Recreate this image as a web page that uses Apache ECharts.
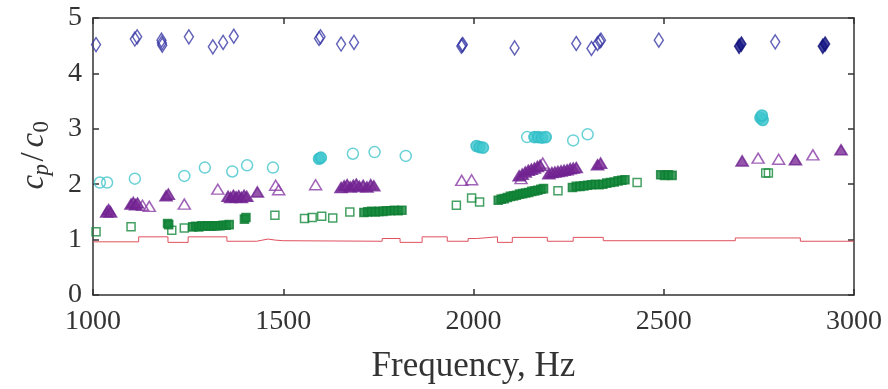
<!DOCTYPE html>
<html>
<head>
<meta charset="utf-8">
<script src="https://cdn.jsdelivr.net/npm/echarts@6/dist/echarts.min.js"></script>
<style>html,body{margin:0;padding:0;background:#fff;}#c{width:888px;height:389px;}</style>
</head>
<body>
<div id="c"></div>
<script>
// ---- data ----
var xTicks = [1000, 1500, 2000, 2500, 3000];
var yTicks = [0, 1, 2, 3, 4, 5];

// open (isolated) markers
var diamondsOpen = [
  [1008,4.52],
  [1110,4.62],[1116,4.66],
  [1180,4.60],[1181,4.55],[1182,4.51],
  [1252,4.66],
  [1315,4.48],
  [1342,4.56],
  [1370,4.67],
  [1594,4.63],[1598,4.66],
  [1652,4.53],
  [1686,4.56],
  [1968,4.49],[1970,4.51],[1972,4.52],
  [2108,4.46],
  [2270,4.54],
  [2310,4.45],
  [2326,4.54],[2332,4.58],[2335,4.60],
  [2487,4.60],
  [2793,4.57]
];
// overlapping clusters (appear solid)
var diamondsDense = [
  [2698,4.49],[2704,4.53],
  [2918,4.49],[2924,4.53]
];

var circlesOpen = [
  [1018,2.03],[1037,2.03],
  [1110,2.10],
  [1240,2.15],
  [1294,2.30],
  [1366,2.23],
  [1405,2.34],
  [1473,2.30],
  [1683,2.55],
  [1740,2.58],
  [1822,2.51],
  [2141,2.85],
  [2262,2.79],
  [2300,2.90]
];
var circlesDense = [
  [1594,2.46],[1599,2.48],
  [2008,2.69],[2016,2.67],[2025,2.66],
  [2160,2.85],[2170,2.85],[2180,2.84],[2190,2.85],
  [2754,3.20],[2760,3.16],[2758,3.24]
];

var trianglesOpen = [
  [1130,1.62],[1148,1.60],
  [1240,1.64],
  [1328,1.91],
  [1480,1.98],[1488,1.90],
  [1585,1.99],
  [1969,2.07],[1995,2.08],
  [2125,2.10],[2182,2.38],
  [2748,2.47],
  [2802,2.45],
  [2892,2.53]
];
var trianglesDense = [
  [1036,1.50],[1041,1.54],[1046,1.50],
  [1100,1.64],[1106,1.67],[1112,1.63],[1117,1.66],
  [1192,1.79],[1198,1.82],
  [1355,1.78],[1362,1.76],[1369,1.80],[1376,1.77],[1383,1.79],[1390,1.76],[1397,1.80],[1404,1.78],
  [1432,1.86],
  [1652,1.94],[1660,1.97],[1668,1.99],[1676,1.95],[1684,1.98],[1692,2.00],[1700,1.96],[1710,1.98],[1720,1.95],[1730,1.99],[1738,1.97],
  [2120,2.15],[2128,2.18],[2136,2.22],[2144,2.25],[2152,2.27],[2160,2.29],[2168,2.32],[2175,2.34],
  [2198,2.19],[2206,2.21],[2214,2.22],[2222,2.23],[2230,2.24],[2238,2.25],[2246,2.26],[2254,2.28],[2262,2.29],[2270,2.30],
  [2326,2.35],[2334,2.38],
  [2706,2.42],
  [2846,2.44],
  [2966,2.62]
];

var squaresOpen = [
  [1008,1.14],
  [1100,1.23],
  [1207,1.17],
  [1240,1.21],
  [1478,1.44],
  [1556,1.38],[1576,1.40],
  [1601,1.42],[1630,1.39],
  [1675,1.50],
  [1955,1.62],
  [1995,1.75],[2016,1.68],
  [2222,1.88],
  [2430,2.03],
  [2768,2.20],[2775,2.20]
];
var squaresDense = [
  [1196,1.29],[1199,1.27],
  [1262,1.23],[1270,1.24],[1278,1.23],[1286,1.25],[1294,1.24],[1302,1.25],[1310,1.24],[1318,1.25],[1326,1.25],[1334,1.25],[1342,1.26],[1350,1.26],[1358,1.27],
  [1398,1.37],[1402,1.40],
  [1712,1.49],[1722,1.50],[1732,1.51],[1742,1.50],[1752,1.51],[1762,1.51],[1772,1.52],[1782,1.52],[1792,1.53],[1802,1.52],[1812,1.53],
  [2065,1.71],[2073,1.73],[2081,1.74],[2089,1.76],[2097,1.78],[2105,1.79],[2113,1.80],[2121,1.82],[2129,1.83],[2137,1.84],[2145,1.85],[2153,1.87],[2161,1.88],[2169,1.89],[2177,1.91],[2184,1.92],
  [2260,1.94],[2270,1.96],[2280,1.96],[2290,1.97],[2300,1.98],[2310,1.99],[2320,2.00],[2330,1.99],[2340,2.00],[2350,2.02],[2360,2.03],[2370,2.04],[2380,2.06],[2390,2.07],[2398,2.08],
  [2492,2.17],[2502,2.16],[2512,2.17],[2522,2.16]
];

var redX = [1000,1120,1197,1250,1352,1430,1445,1460,1480,1500,1760,1807,1865,1931,1986,2010,2063,2102,2194,2262,2341,2688,2859,3000];
var redY = [0.96,1.05,0.95,1.05,0.97,0.99,1.01,0.99,0.98,0.97,1.02,0.95,1.05,0.97,1.02,1.05,0.95,1.04,0.97,1.04,0.98,1.03,0.97,0.97];

// ---- chart ----
var chart = echarts.init(document.getElementById('c'), null, {renderer:'canvas'});
var AX = '#333';
var FONT = 'Liberation Serif';
function hollow(c){ return {color:'rgba(255,255,255,0)', borderColor:c, borderWidth:1.5}; }
function solid(fill, c){ return {color:fill, borderColor:c, borderWidth:1.6}; }
var redData = redX.map(function(x,i){ return [x, redY[i]]; });

function xAx(pos, show){
  return {
    type:'value', min:xTicks[0], max:xTicks[xTicks.length-1], interval:500, position:pos,
    axisLine:{show:true, onZero:false, lineStyle:{color:AX, width:1.5}},
    axisTick:{show:true, inside:true, length:6, lineStyle:{color:AX, width:1.5}},
    axisLabel:{show:show, fontFamily:FONT, fontSize:28, color:AX, margin:13,
               formatter:function(v){ return String(v); }},
    splitLine:{show:false},
    name: show ? 'Frequency, Hz' : '', nameLocation:'middle', nameGap:54,
    nameTextStyle:{fontFamily:FONT, fontSize:35, color:AX}
  };
}
function yAx(pos, show){
  return {
    type:'value', min:yTicks[0], max:yTicks[yTicks.length-1], interval:1, position:pos,
    axisLine:{show:true, onZero:false, lineStyle:{color:AX, width:1.5}},
    axisTick:{show:true, inside:true, length:6, lineStyle:{color:AX, width:1.5}},
    axisLabel:{show:show, fontFamily:FONT, fontSize:28, color:AX, margin:11},
    splitLine:{show:false}
  };
}

chart.setOption({
  animation:false,
  backgroundColor:'#fff',
  grid:{left:93, right:34, top:18, bottom:93},
  xAxis:[xAx('bottom', true), xAx('top', false)],
  yAxis:[yAx('left', true), yAx('right', false)],
  graphic:[{
    type:'group', left:18, top:121, rotation:Math.PI/2,
    children:[
      {type:'text', x:0, y:0, style:{text:'c', font:'italic 33px "Liberation Serif"', fill:AX}},
      {type:'text', x:14, y:12, style:{text:'p', font:'italic 23px "Liberation Serif"', fill:AX}},
      {type:'text', x:28, y:0, style:{text:'/', font:'33px "Liberation Serif"', fill:AX}},
      {type:'text', x:42, y:0, style:{text:'c', font:'italic 33px "Liberation Serif"', fill:AX}},
      {type:'text', x:57, y:12, style:{text:'0', font:'23px "Liberation Serif"', fill:AX}}
    ]
  }],
  series:[
    {type:'line', data:redData, step:'end', symbol:'none', lineStyle:{color:'#e0505e', width:1}, z:1},
    {type:'scatter', data:squaresOpen, symbol:'rect', symbolSize:8, itemStyle:hollow('#168a3c'), z:2},
    {type:'scatter', data:squaresDense, symbol:'rect', symbolSize:8, itemStyle:solid('#12883a','#0f7d33'), z:2},
    {type:'scatter', data:trianglesOpen, symbol:'triangle', symbolSize:[12,10], itemStyle:hollow('#8a3ca6'), z:3},
    {type:'scatter', data:trianglesDense, symbol:'triangle', symbolSize:[12,10], itemStyle:solid('#7a2a96','#6e2290'), z:3},
    {type:'scatter', data:circlesOpen, symbol:'circle', symbolSize:11, itemStyle:hollow('#44c6cc'), z:4},
    {type:'scatter', data:circlesDense, symbol:'circle', symbolSize:11, itemStyle:solid('#40c8d0','#30bcc6'), z:4},
    {type:'scatter', data:diamondsOpen, symbol:'diamond', symbolSize:[9,14], itemStyle:hollow('#3a3aa6'), z:5},
    {type:'scatter', data:diamondsDense, symbol:'diamond', symbolSize:[9,14], itemStyle:solid('#1a1a8a','#10107a'), z:5}
  ]
});
</script>
</body>
</html>
